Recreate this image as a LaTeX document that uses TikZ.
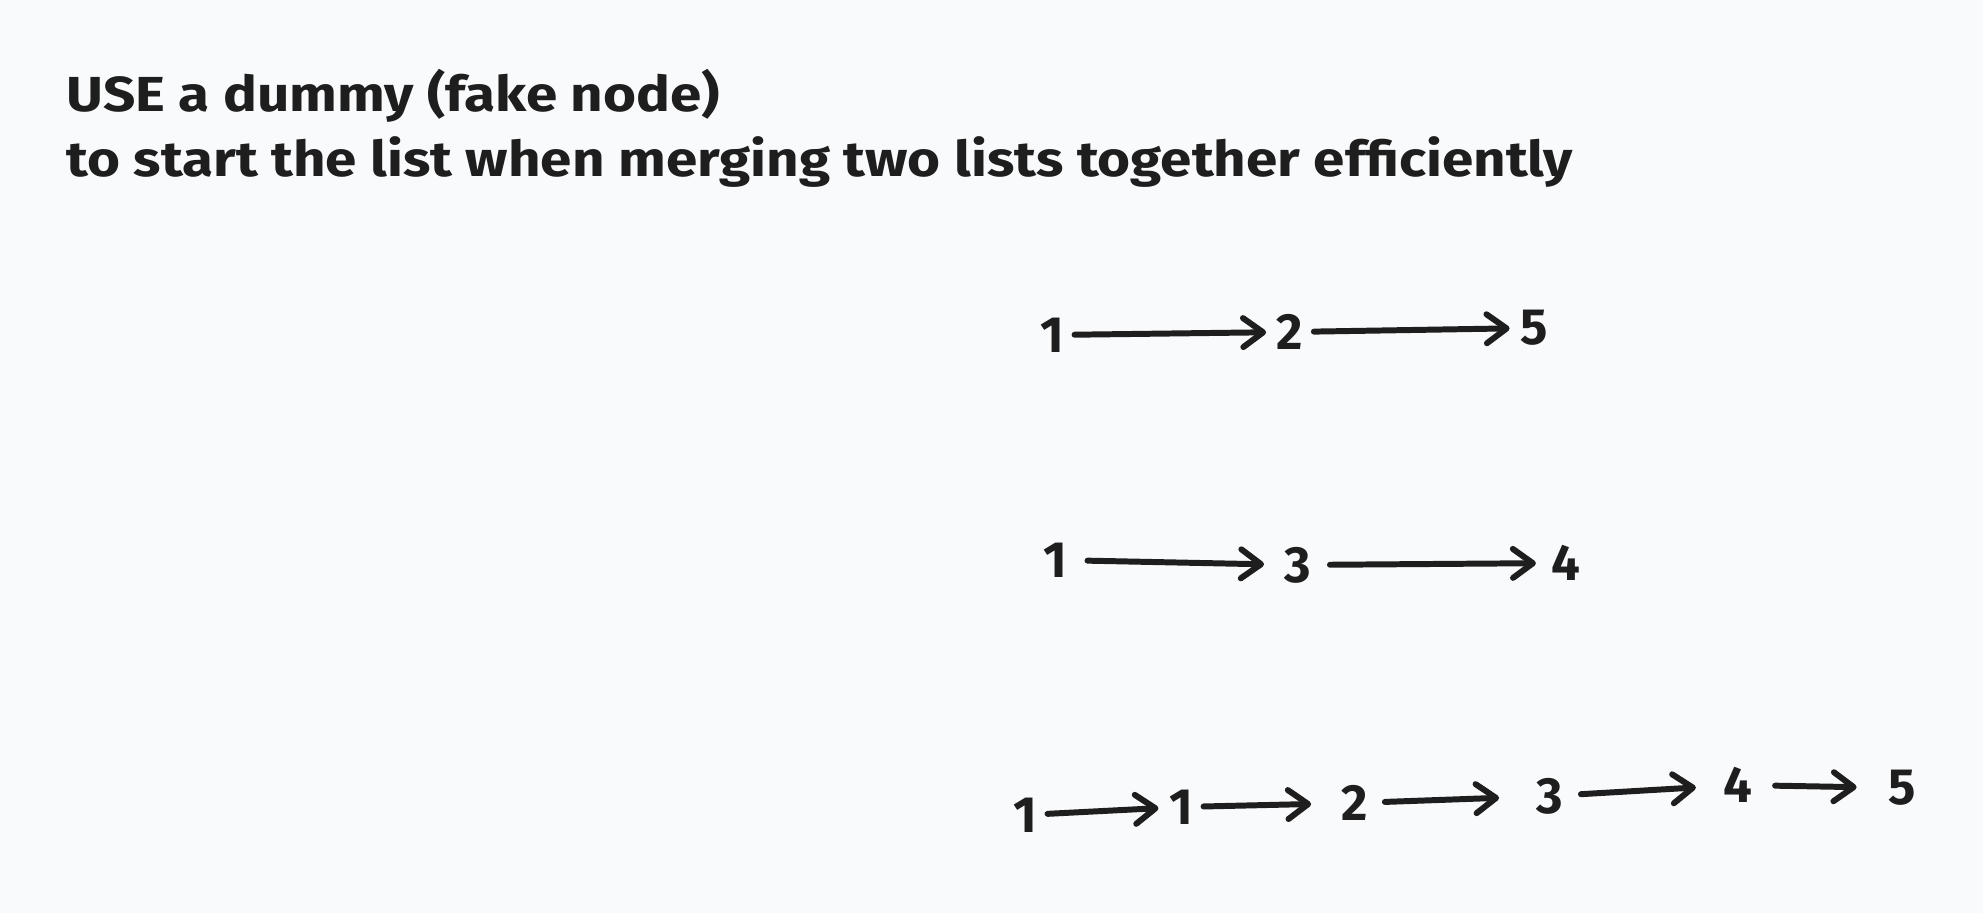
\documentclass[tikz,border=0pt]{standalone}
\usepackage{fontspec}
\setmainfont{Fira Sans}
\newfontfamily\headfont{Fira Sans}[FakeStretch=1.15]
\usepackage{tikz}
\usetikzlibrary{arrows.meta, positioning}
\usepackage{xcolor}
\definecolor{paper}{RGB}{249,250,252}
\definecolor{ink}{RGB}{30,30,30}

\begin{document}
\begin{tikzpicture}[
    headline/.style={
        anchor=base west,
        inner sep=0pt,
        text=ink,
        font=\headfont\fontsize{14}{16}\selectfont\bfseries
    },
    digit/.style={
        inner sep=0.1cm,
        text=ink,
        font=\fontsize{14.5}{16}\selectfont\bfseries
    },
    link/.style={
        draw=ink,
        line width=1.7pt,
        line cap=round,
        line join=round,
        -{Straight Barb[length=0.2cm, width=0.29cm, round]}
    }
]

% Background
\fill[paper] (0,0) rectangle (19.83,-9.13);
\useasboundingbox (0,0) rectangle (19.83,-9.13);

% Heading
\node[headline] (head1) at (0.66,-1.12) {USE a dummy (fake node)};
\node[headline] (head2) at ([yshift=-0.65cm]head1.base west) {to start the list when merging two lists together efficiently};

% Row 1
\node[digit] (a1) at (10.52,-3.35) {1};
\node[digit] (a2) at (12.90,-3.32) {2};
\node[digit] (a5) at (15.34,-3.28) {5};

% Row 2
\node[digit] (b1) at (10.55,-5.60) {1};
\node[digit] (b3) at (12.98,-5.65) {3};
\node[digit] (b4) at (15.66,-5.63) {4};

% Row 3
\node[digit] (c0) at (10.25,-8.15) {1};
\node[digit] (c1) at (11.81,-8.07) {1};
\node[digit] (c2) at (13.55,-8.03) {2};
\node[digit] (c3) at (15.50,-7.96) {3};
\node[digit] (c4) at (17.38,-7.85) {4};
\node[digit] (c5) at (19.02,-7.88) {5};

% Links
\draw[link] (a1) -- (a2);
\draw[link] (a2) -- (a5);

\draw[link, shorten <=0.1cm, shorten >=0.1cm] (b1) -- (b3);
\draw[link, shorten <=0.08cm, shorten >=0.05cm] (b3) -- (b4);

\draw[link] (c0) -- (c1);
\draw[link, shorten >=0.2cm] (c1) -- (c2);
\draw[link, shorten <=0.06cm, shorten >=0.27cm] (c2) -- (c3);
\draw[link, shorten <=0.07cm, shorten >=0.17cm] (c3) -- (c4);
\draw[link, shorten <=0.12cm, shorten >=0.21cm] (c4) -- (c5);

\end{tikzpicture}
\end{document}
